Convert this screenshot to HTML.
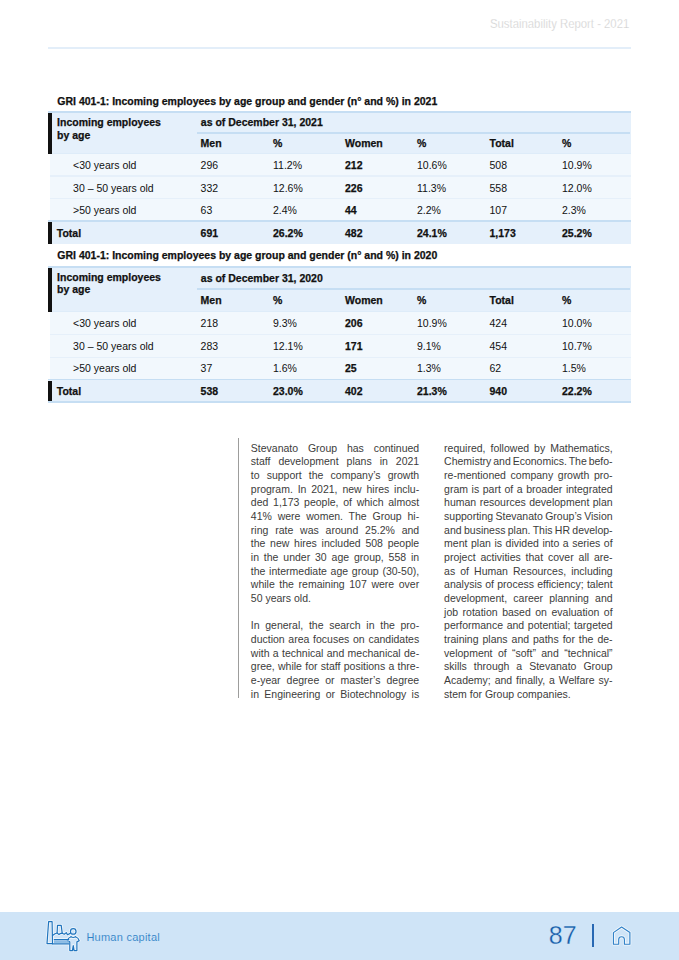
<!DOCTYPE html>
<html><head><meta charset="utf-8">
<style>
html,body{margin:0;padding:0;background:#fff;}
body{width:679px;height:960px;position:relative;overflow:hidden;font-family:"Liberation Sans",sans-serif;}
.t{position:absolute;white-space:pre;}
.r{position:absolute;}
.p{position:absolute;white-space:pre;font-size:10.5px;line-height:11.729px;color:#3c3c3b;height:12px;overflow:visible;}
</style></head><body>
<div class="t" style="left:490.30px;top:17.58px;font-size:12.4px;line-height:13.851px;font-weight:400;color:#d0d0d0;letter-spacing:0px;transform:scaleX(0.915);transform-origin:0 0;-webkit-text-stroke:0.25px #fff">Sustainability Report - 2021</div>

<div class="r" style="left:48.00px;top:47.00px;width:582.50px;height:1.60px;background:#e3eef9"></div>

<div class="t" style="left:57.30px;top:95.50px;font-size:10.5px;line-height:11.729px;font-weight:700;color:#111111;letter-spacing:0px;-webkit-text-stroke:0.25px #111111;">GRI 401-1: Incoming employees by age group and gender (n° and %) in 2021</div>
<div class="r" style="left:48.00px;top:110.60px;width:582.50px;height:2.00px;background:#c6def3"></div>
<div class="r" style="left:48.00px;top:112.60px;width:582.50px;height:41.20px;background:#e5f0fb"></div>
<div class="r" style="left:48.00px;top:113.10px;width:4.00px;height:40.70px;background:#111111"></div>
<div class="t" style="left:57.10px;top:117.10px;font-size:10.5px;line-height:11.729px;font-weight:700;color:#111111;letter-spacing:0px;-webkit-text-stroke:0.25px #111111;">Incoming employees</div>
<div class="t" style="left:57.10px;top:129.70px;font-size:10.5px;line-height:11.729px;font-weight:700;color:#111111;letter-spacing:0px;-webkit-text-stroke:0.25px #111111;">by age</div>
<div class="t" style="left:200.80px;top:117.00px;font-size:10.5px;line-height:11.729px;font-weight:700;color:#111111;letter-spacing:0px;-webkit-text-stroke:0.25px #111111;">as of December 31, 2021</div>
<div class="r" style="left:197.30px;top:131.90px;width:433.20px;height:2.00px;background:#c6def3"></div>
<div class="t" style="left:200.60px;top:137.60px;font-size:10.5px;line-height:11.729px;font-weight:700;color:#111111;letter-spacing:0px;-webkit-text-stroke:0.25px #111111;">Men</div>
<div class="t" style="left:273.00px;top:137.60px;font-size:10.5px;line-height:11.729px;font-weight:700;color:#111111;letter-spacing:0px;-webkit-text-stroke:0.25px #111111;">%</div>
<div class="t" style="left:345.00px;top:137.60px;font-size:10.5px;line-height:11.729px;font-weight:700;color:#111111;letter-spacing:0px;-webkit-text-stroke:0.25px #111111;">Women</div>
<div class="t" style="left:417.00px;top:137.60px;font-size:10.5px;line-height:11.729px;font-weight:700;color:#111111;letter-spacing:0px;-webkit-text-stroke:0.25px #111111;">%</div>
<div class="t" style="left:489.50px;top:137.60px;font-size:10.5px;line-height:11.729px;font-weight:700;color:#111111;letter-spacing:0px;-webkit-text-stroke:0.25px #111111;">Total</div>
<div class="t" style="left:562.00px;top:137.60px;font-size:10.5px;line-height:11.729px;font-weight:700;color:#111111;letter-spacing:0px;-webkit-text-stroke:0.25px #111111;">%</div>
<div class="r" style="left:50.00px;top:153.80px;width:581.00px;height:66.20px;background:#f2f8fd"></div>
<div class="r" style="left:52.00px;top:152.80px;width:578.50px;height:1.00px;background:#deecf9"></div>
<div class="r" style="left:50.00px;top:175.40px;width:581.00px;height:1.20px;background:#e6f0fa"></div>
<div class="r" style="left:50.00px;top:198.00px;width:581.00px;height:1.20px;background:#e6f0fa"></div>
<div class="t" style="left:73.10px;top:159.80px;font-size:10.5px;line-height:11.729px;font-weight:400;color:#111111;letter-spacing:0px;">&lt;30 years old</div>
<div class="t" style="left:200.60px;top:159.80px;font-size:10.5px;line-height:11.729px;font-weight:400;color:#111111;letter-spacing:0px;">296</div>
<div class="t" style="left:273.00px;top:159.80px;font-size:10.5px;line-height:11.729px;font-weight:400;color:#111111;letter-spacing:0px;">11.2%</div>
<div class="t" style="left:345.00px;top:159.80px;font-size:10.5px;line-height:11.729px;font-weight:700;color:#111111;letter-spacing:0px;-webkit-text-stroke:0.25px #111111;">212</div>
<div class="t" style="left:417.00px;top:159.80px;font-size:10.5px;line-height:11.729px;font-weight:400;color:#111111;letter-spacing:0px;">10.6%</div>
<div class="t" style="left:489.50px;top:159.80px;font-size:10.5px;line-height:11.729px;font-weight:400;color:#111111;letter-spacing:0px;">508</div>
<div class="t" style="left:562.00px;top:159.80px;font-size:10.5px;line-height:11.729px;font-weight:400;color:#111111;letter-spacing:0px;">10.9%</div>
<div class="t" style="left:73.10px;top:182.70px;font-size:10.5px;line-height:11.729px;font-weight:400;color:#111111;letter-spacing:0px;">30 – 50 years old</div>
<div class="t" style="left:200.60px;top:182.70px;font-size:10.5px;line-height:11.729px;font-weight:400;color:#111111;letter-spacing:0px;">332</div>
<div class="t" style="left:273.00px;top:182.70px;font-size:10.5px;line-height:11.729px;font-weight:400;color:#111111;letter-spacing:0px;">12.6%</div>
<div class="t" style="left:345.00px;top:182.70px;font-size:10.5px;line-height:11.729px;font-weight:700;color:#111111;letter-spacing:0px;-webkit-text-stroke:0.25px #111111;">226</div>
<div class="t" style="left:417.00px;top:182.70px;font-size:10.5px;line-height:11.729px;font-weight:400;color:#111111;letter-spacing:0px;">11.3%</div>
<div class="t" style="left:489.50px;top:182.70px;font-size:10.5px;line-height:11.729px;font-weight:400;color:#111111;letter-spacing:0px;">558</div>
<div class="t" style="left:562.00px;top:182.70px;font-size:10.5px;line-height:11.729px;font-weight:400;color:#111111;letter-spacing:0px;">12.0%</div>
<div class="t" style="left:73.10px;top:205.30px;font-size:10.5px;line-height:11.729px;font-weight:400;color:#111111;letter-spacing:0px;">&gt;50 years old</div>
<div class="t" style="left:200.60px;top:205.30px;font-size:10.5px;line-height:11.729px;font-weight:400;color:#111111;letter-spacing:0px;">63</div>
<div class="t" style="left:273.00px;top:205.30px;font-size:10.5px;line-height:11.729px;font-weight:400;color:#111111;letter-spacing:0px;">2.4%</div>
<div class="t" style="left:345.00px;top:205.30px;font-size:10.5px;line-height:11.729px;font-weight:700;color:#111111;letter-spacing:0px;-webkit-text-stroke:0.25px #111111;">44</div>
<div class="t" style="left:417.00px;top:205.30px;font-size:10.5px;line-height:11.729px;font-weight:400;color:#111111;letter-spacing:0px;">2.2%</div>
<div class="t" style="left:489.50px;top:205.30px;font-size:10.5px;line-height:11.729px;font-weight:400;color:#111111;letter-spacing:0px;">107</div>
<div class="t" style="left:562.00px;top:205.30px;font-size:10.5px;line-height:11.729px;font-weight:400;color:#111111;letter-spacing:0px;">2.3%</div>
<div class="r" style="left:48.00px;top:220.00px;width:582.50px;height:1.60px;background:#c6def3"></div>
<div class="r" style="left:48.00px;top:221.60px;width:582.50px;height:22.30px;background:#e5f0fb"></div>
<div class="r" style="left:48.00px;top:222.20px;width:4.00px;height:21.70px;background:#111111"></div>
<div class="t" style="left:56.80px;top:227.80px;font-size:10.5px;line-height:11.729px;font-weight:700;color:#111111;letter-spacing:0px;-webkit-text-stroke:0.25px #111111;">Total</div>
<div class="t" style="left:200.60px;top:227.80px;font-size:10.5px;line-height:11.729px;font-weight:700;color:#111111;letter-spacing:0px;-webkit-text-stroke:0.25px #111111;">691</div>
<div class="t" style="left:273.00px;top:227.80px;font-size:10.5px;line-height:11.729px;font-weight:700;color:#111111;letter-spacing:0px;-webkit-text-stroke:0.25px #111111;">26.2%</div>
<div class="t" style="left:345.00px;top:227.80px;font-size:10.5px;line-height:11.729px;font-weight:700;color:#111111;letter-spacing:0px;-webkit-text-stroke:0.25px #111111;">482</div>
<div class="t" style="left:417.00px;top:227.80px;font-size:10.5px;line-height:11.729px;font-weight:700;color:#111111;letter-spacing:0px;-webkit-text-stroke:0.25px #111111;">24.1%</div>
<div class="t" style="left:489.50px;top:227.80px;font-size:10.5px;line-height:11.729px;font-weight:700;color:#111111;letter-spacing:0px;-webkit-text-stroke:0.25px #111111;">1,173</div>
<div class="t" style="left:562.00px;top:227.80px;font-size:10.5px;line-height:11.729px;font-weight:700;color:#111111;letter-spacing:0px;-webkit-text-stroke:0.25px #111111;">25.2%</div>

<div class="t" style="left:57.30px;top:250.00px;font-size:10.5px;line-height:11.729px;font-weight:700;color:#111111;letter-spacing:0px;-webkit-text-stroke:0.25px #111111;">GRI 401-1: Incoming employees by age group and gender (n° and %) in 2020</div>
<div class="r" style="left:48.00px;top:265.60px;width:582.50px;height:2.00px;background:#c6def3"></div>
<div class="r" style="left:48.00px;top:267.60px;width:582.50px;height:44.20px;background:#e5f0fb"></div>
<div class="r" style="left:48.00px;top:268.10px;width:4.00px;height:43.70px;background:#111111"></div>
<div class="t" style="left:57.10px;top:272.00px;font-size:10.5px;line-height:11.729px;font-weight:700;color:#111111;letter-spacing:0px;-webkit-text-stroke:0.25px #111111;">Incoming employees</div>
<div class="t" style="left:57.10px;top:283.70px;font-size:10.5px;line-height:11.729px;font-weight:700;color:#111111;letter-spacing:0px;-webkit-text-stroke:0.25px #111111;">by age</div>
<div class="t" style="left:200.80px;top:272.90px;font-size:10.5px;line-height:11.729px;font-weight:700;color:#111111;letter-spacing:0px;-webkit-text-stroke:0.25px #111111;">as of December 31, 2020</div>
<div class="r" style="left:197.30px;top:288.20px;width:433.20px;height:2.00px;background:#c6def3"></div>
<div class="t" style="left:200.60px;top:295.20px;font-size:10.5px;line-height:11.729px;font-weight:700;color:#111111;letter-spacing:0px;-webkit-text-stroke:0.25px #111111;">Men</div>
<div class="t" style="left:273.00px;top:295.20px;font-size:10.5px;line-height:11.729px;font-weight:700;color:#111111;letter-spacing:0px;-webkit-text-stroke:0.25px #111111;">%</div>
<div class="t" style="left:345.00px;top:295.20px;font-size:10.5px;line-height:11.729px;font-weight:700;color:#111111;letter-spacing:0px;-webkit-text-stroke:0.25px #111111;">Women</div>
<div class="t" style="left:417.00px;top:295.20px;font-size:10.5px;line-height:11.729px;font-weight:700;color:#111111;letter-spacing:0px;-webkit-text-stroke:0.25px #111111;">%</div>
<div class="t" style="left:489.50px;top:295.20px;font-size:10.5px;line-height:11.729px;font-weight:700;color:#111111;letter-spacing:0px;-webkit-text-stroke:0.25px #111111;">Total</div>
<div class="t" style="left:562.00px;top:295.20px;font-size:10.5px;line-height:11.729px;font-weight:700;color:#111111;letter-spacing:0px;-webkit-text-stroke:0.25px #111111;">%</div>
<div class="r" style="left:50.00px;top:311.80px;width:581.00px;height:67.00px;background:#f2f8fd"></div>
<div class="r" style="left:52.00px;top:310.80px;width:578.50px;height:1.00px;background:#deecf9"></div>
<div class="r" style="left:50.00px;top:334.00px;width:581.00px;height:1.20px;background:#e6f0fa"></div>
<div class="r" style="left:50.00px;top:356.70px;width:581.00px;height:1.20px;background:#e6f0fa"></div>
<div class="t" style="left:73.10px;top:318.40px;font-size:10.5px;line-height:11.729px;font-weight:400;color:#111111;letter-spacing:0px;">&lt;30 years old</div>
<div class="t" style="left:200.60px;top:318.40px;font-size:10.5px;line-height:11.729px;font-weight:400;color:#111111;letter-spacing:0px;">218</div>
<div class="t" style="left:273.00px;top:318.40px;font-size:10.5px;line-height:11.729px;font-weight:400;color:#111111;letter-spacing:0px;">9.3%</div>
<div class="t" style="left:345.00px;top:318.40px;font-size:10.5px;line-height:11.729px;font-weight:700;color:#111111;letter-spacing:0px;-webkit-text-stroke:0.25px #111111;">206</div>
<div class="t" style="left:417.00px;top:318.40px;font-size:10.5px;line-height:11.729px;font-weight:400;color:#111111;letter-spacing:0px;">10.9%</div>
<div class="t" style="left:489.50px;top:318.40px;font-size:10.5px;line-height:11.729px;font-weight:400;color:#111111;letter-spacing:0px;">424</div>
<div class="t" style="left:562.00px;top:318.40px;font-size:10.5px;line-height:11.729px;font-weight:400;color:#111111;letter-spacing:0px;">10.0%</div>
<div class="t" style="left:73.10px;top:340.90px;font-size:10.5px;line-height:11.729px;font-weight:400;color:#111111;letter-spacing:0px;">30 – 50 years old</div>
<div class="t" style="left:200.60px;top:340.90px;font-size:10.5px;line-height:11.729px;font-weight:400;color:#111111;letter-spacing:0px;">283</div>
<div class="t" style="left:273.00px;top:340.90px;font-size:10.5px;line-height:11.729px;font-weight:400;color:#111111;letter-spacing:0px;">12.1%</div>
<div class="t" style="left:345.00px;top:340.90px;font-size:10.5px;line-height:11.729px;font-weight:700;color:#111111;letter-spacing:0px;-webkit-text-stroke:0.25px #111111;">171</div>
<div class="t" style="left:417.00px;top:340.90px;font-size:10.5px;line-height:11.729px;font-weight:400;color:#111111;letter-spacing:0px;">9.1%</div>
<div class="t" style="left:489.50px;top:340.90px;font-size:10.5px;line-height:11.729px;font-weight:400;color:#111111;letter-spacing:0px;">454</div>
<div class="t" style="left:562.00px;top:340.90px;font-size:10.5px;line-height:11.729px;font-weight:400;color:#111111;letter-spacing:0px;">10.7%</div>
<div class="t" style="left:73.10px;top:363.40px;font-size:10.5px;line-height:11.729px;font-weight:400;color:#111111;letter-spacing:0px;">&gt;50 years old</div>
<div class="t" style="left:200.60px;top:363.40px;font-size:10.5px;line-height:11.729px;font-weight:400;color:#111111;letter-spacing:0px;">37</div>
<div class="t" style="left:273.00px;top:363.40px;font-size:10.5px;line-height:11.729px;font-weight:400;color:#111111;letter-spacing:0px;">1.6%</div>
<div class="t" style="left:345.00px;top:363.40px;font-size:10.5px;line-height:11.729px;font-weight:700;color:#111111;letter-spacing:0px;-webkit-text-stroke:0.25px #111111;">25</div>
<div class="t" style="left:417.00px;top:363.40px;font-size:10.5px;line-height:11.729px;font-weight:400;color:#111111;letter-spacing:0px;">1.3%</div>
<div class="t" style="left:489.50px;top:363.40px;font-size:10.5px;line-height:11.729px;font-weight:400;color:#111111;letter-spacing:0px;">62</div>
<div class="t" style="left:562.00px;top:363.40px;font-size:10.5px;line-height:11.729px;font-weight:400;color:#111111;letter-spacing:0px;">1.5%</div>
<div class="r" style="left:48.00px;top:378.80px;width:582.50px;height:1.60px;background:#c6def3"></div>
<div class="r" style="left:48.00px;top:380.40px;width:582.50px;height:20.50px;background:#e5f0fb"></div>
<div class="r" style="left:48.00px;top:381.00px;width:4.00px;height:19.90px;background:#111111"></div>
<div class="t" style="left:56.80px;top:385.70px;font-size:10.5px;line-height:11.729px;font-weight:700;color:#111111;letter-spacing:0px;-webkit-text-stroke:0.25px #111111;">Total</div>
<div class="t" style="left:200.60px;top:385.70px;font-size:10.5px;line-height:11.729px;font-weight:700;color:#111111;letter-spacing:0px;-webkit-text-stroke:0.25px #111111;">538</div>
<div class="t" style="left:273.00px;top:385.70px;font-size:10.5px;line-height:11.729px;font-weight:700;color:#111111;letter-spacing:0px;-webkit-text-stroke:0.25px #111111;">23.0%</div>
<div class="t" style="left:345.00px;top:385.70px;font-size:10.5px;line-height:11.729px;font-weight:700;color:#111111;letter-spacing:0px;-webkit-text-stroke:0.25px #111111;">402</div>
<div class="t" style="left:417.00px;top:385.70px;font-size:10.5px;line-height:11.729px;font-weight:700;color:#111111;letter-spacing:0px;-webkit-text-stroke:0.25px #111111;">21.3%</div>
<div class="t" style="left:489.50px;top:385.70px;font-size:10.5px;line-height:11.729px;font-weight:700;color:#111111;letter-spacing:0px;-webkit-text-stroke:0.25px #111111;">940</div>
<div class="t" style="left:562.00px;top:385.70px;font-size:10.5px;line-height:11.729px;font-weight:700;color:#111111;letter-spacing:0px;-webkit-text-stroke:0.25px #111111;">22.2%</div>
<div class="r" style="left:48.00px;top:400.90px;width:582.50px;height:1.80px;background:#c6def3"></div>

<div class="r" style="left:238.00px;top:438.00px;width:1.30px;height:259.50px;background:#9d9d9c"></div>

<div class="p" style="left:250.80px;top:442.80px;word-spacing:6.904px">Stevanato Group has continued</div>
<div class="p" style="left:250.80px;top:456.45px;word-spacing:5.080px">staff development plans in 2021</div>
<div class="p" style="left:250.80px;top:470.10px;word-spacing:4.209px">to support the company’s growth</div>
<div class="p" style="left:250.80px;top:483.75px;word-spacing:1.930px">program. In 2021, new hires inclu-</div>
<div class="p" style="left:250.80px;top:497.40px;word-spacing:1.808px">ded 1,173 people, of which almost</div>
<div class="p" style="left:250.80px;top:511.05px;word-spacing:2.902px">41% were women. The Group hi-</div>
<div class="p" style="left:250.80px;top:524.70px;word-spacing:3.908px">ring rate was around 25.2% and</div>
<div class="p" style="left:250.80px;top:538.35px;word-spacing:1.805px">the new hires included 508 people</div>
<div class="p" style="left:250.80px;top:552.00px;word-spacing:1.954px">in the under 30 age group, 558 in</div>
<div class="p" style="left:250.80px;top:565.65px;word-spacing:0.803px">the intermediate age group (30-50),</div>
<div class="p" style="left:250.80px;top:579.30px;word-spacing:1.696px">while the remaining 107 were over</div>
<div class="p" style="left:250.80px;top:592.95px;word-spacing:0.000px">50 years old.</div>
<div class="p" style="left:250.80px;top:620.25px;word-spacing:2.772px">In general, the search in the pro-</div>
<div class="p" style="left:250.80px;top:633.90px;word-spacing:0.799px">duction area focuses on candidates</div>
<div class="p" style="left:250.80px;top:647.55px;word-spacing:0.408px">with a technical and mechanical de-</div>
<div class="p" style="left:250.80px;top:661.20px;word-spacing:0.377px">gree, while for staff positions a thre-</div>
<div class="p" style="left:250.80px;top:674.85px;word-spacing:3.092px">e-year degree or master’s degree</div>
<div class="p" style="left:250.80px;top:688.50px;word-spacing:2.405px">in Engineering or Biotechnology is</div>

<div class="p" style="left:444.10px;top:442.80px;word-spacing:2.083px">required, followed by Mathematics,</div>
<div class="p" style="left:444.10px;top:456.45px;word-spacing:-1.016px">Chemistry and Economics. The befo-</div>
<div class="p" style="left:444.10px;top:470.10px;word-spacing:1.693px">re-mentioned company growth pro-</div>
<div class="p" style="left:444.10px;top:483.75px;word-spacing:0.651px">gram is part of a broader integrated</div>
<div class="p" style="left:444.10px;top:497.40px;word-spacing:0.521px">human resources development plan</div>
<div class="p" style="left:444.10px;top:511.05px;word-spacing:-0.521px">supporting Stevanato Group’s Vision</div>
<div class="p" style="left:444.10px;top:524.70px;word-spacing:-0.581px">and business plan. This HR develop-</div>
<div class="p" style="left:444.10px;top:538.35px;word-spacing:0.641px">ment plan is divided into a series of</div>
<div class="p" style="left:444.10px;top:552.00px;word-spacing:1.953px">project activities that cover all are-</div>
<div class="p" style="left:444.10px;top:565.65px;word-spacing:2.145px">as of Human Resources, including</div>
<div class="p" style="left:444.10px;top:579.30px;word-spacing:0.297px">analysis of process efficiency; talent</div>
<div class="p" style="left:444.10px;top:592.95px;word-spacing:3.240px">development, career planning and</div>
<div class="p" style="left:444.10px;top:606.60px;word-spacing:1.591px">job rotation based on evaluation of</div>
<div class="p" style="left:444.10px;top:620.25px;word-spacing:0.714px">performance and potential; targeted</div>
<div class="p" style="left:444.10px;top:633.90px;word-spacing:1.036px">training plans and paths for the de-</div>
<div class="p" style="left:444.10px;top:647.55px;word-spacing:2.438px">velopment of “soft” and “technical”</div>
<div class="p" style="left:444.10px;top:661.20px;word-spacing:4.039px">skills through a Stevanato Group</div>
<div class="p" style="left:444.10px;top:674.85px;word-spacing:0.978px">Academy; and finally, a Welfare sy-</div>
<div class="p" style="left:444.10px;top:688.50px;word-spacing:0.000px">stem for Group companies.</div>

<div class="r" style="left:0.00px;top:911.50px;width:679.00px;height:48.50px;background:#cfe4f7"></div>

<svg class="r" style="left:40px;top:915px" width="50" height="40" viewBox="40 915 50 40">
<g fill="none" stroke="#f4f9fd" stroke-width="2.6" stroke-linejoin="round" stroke-linecap="round"><path d="M47.0,943.6 L48.6,921.7 H52.1 L52.5,943.6 Z"/>
<path d="M57.1,933.0 L57.5,925.3 H61.2 L62.2,933.2"/>
<path d="M52.5,935.4 L55.0,933.8 L57.1,933.0 L59.0,934.6 L60.3,933.6 L62.2,933.2 L64.3,934.2 L66.3,932.6 L67.5,934.7 L70.2,933.4"/>
<path d="M52.5,943.9 H68.8"/>
<path d="M54.3,939.6 H68.8"/>
<circle cx="73.25" cy="931.4" r="2.8"/>
<path d="M71.0,936.8 Q73.25,938.2 75.5,936.8"/>
<path d="M71.0,936.8 Q68.0,937.8 67.3,940.7 L69.8,941.9 V950.6 H72.4 L73.25,945.6 L74.1,950.6 H76.9 V941.9 L79.2,940.7 Q78.5,937.8 75.5,936.8"/></g>
<g fill="none" stroke="#1f74be" stroke-width="1.2" stroke-linejoin="round" stroke-linecap="round"><path d="M47.0,943.6 L48.6,921.7 H52.1 L52.5,943.6 Z"/>
<path d="M57.1,933.0 L57.5,925.3 H61.2 L62.2,933.2"/>
<path d="M52.5,935.4 L55.0,933.8 L57.1,933.0 L59.0,934.6 L60.3,933.6 L62.2,933.2 L64.3,934.2 L66.3,932.6 L67.5,934.7 L70.2,933.4"/>
<path d="M52.5,943.9 H68.8"/>
<path d="M54.3,939.6 H68.8"/>
<circle cx="73.25" cy="931.4" r="2.8"/>
<path d="M71.0,936.8 Q73.25,938.2 75.5,936.8"/>
<path d="M71.0,936.8 Q68.0,937.8 67.3,940.7 L69.8,941.9 V950.6 H72.4 L73.25,945.6 L74.1,950.6 H76.9 V941.9 L79.2,940.7 Q78.5,937.8 75.5,936.8"/></g>
<rect x="54" y="940.3" width="15" height="1.4" fill="#8dbde6"/><rect x="54" y="941.7" width="15" height="0.9" fill="#5a9fd8"/>
</svg>
<div class="t" style="left:86.40px;top:930.54px;font-size:11px;line-height:12.287px;font-weight:400;color:#2f80c6;letter-spacing:0.25px;-webkit-text-stroke:0.1px #cfe4f7">Human capital</div>

<div class="t" style="left:548.80px;top:921.68px;font-size:25px;line-height:27.925px;font-weight:400;color:#165aa8;letter-spacing:0px;-webkit-text-stroke:0.3px #cfe4f7">87</div>

<div class="r" style="left:592.30px;top:924.00px;width:1.90px;height:22.70px;background:#2868b3"></div>

<svg class="r" style="left:600px;top:915px" width="40" height="40" viewBox="600 915 40 40">
<path d="M613.4,944.2 V932.6 L621.6,927.0 L629.9,932.6 V944.2 H624.4 V939.6 A2.85,2.85 0 0 0 618.7,939.6 V944.2 Z" fill="none" stroke="#f4f9fd" stroke-width="2.8" stroke-linejoin="round"/>
<path d="M613.4,944.2 V932.6 L621.6,927.0 L629.9,932.6 V944.2 H624.4 V939.6 A2.85,2.85 0 0 0 618.7,939.6 V944.2 Z" fill="none" stroke="#2f80c8" stroke-width="1.15" stroke-linejoin="round"/>
</svg>
</body></html>
